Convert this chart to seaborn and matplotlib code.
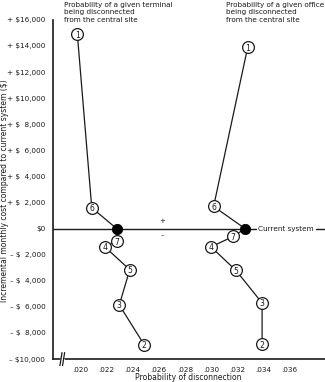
import pandas as pd
import matplotlib
matplotlib.use("Agg")
import matplotlib.pyplot as plt
import seaborn as sns

# points in drawing order; "C" is the current system
point_ids = ["1", "6", "C", "7", "4", "5", "3", "2"]
terminal_prob = [0.0198, 0.0209, 0.0228, 0.0228, 0.0219, 0.0238, 0.0230, 0.0249]
terminal_cost = [14900, 1600, 0, -950, -1400, -3150, -5850, -8900]
office_prob = [0.0328, 0.0302, 0.0326, 0.0317, 0.0300, 0.0319, 0.0339, 0.0339]
office_cost = [13900, 1700, 0, -600, -1400, -3200, -5700, -8850]

y_ticks = [16000, 14000, 12000, 10000, 8000, 6000, 4000, 2000, 0,
           -2000, -4000, -6000, -8000, -10000]
y_labels = ["+ $16,000", "+ $14,000", "+ $12,000", "+ $10,000", "+ $  8,000",
            "+ $  6,000", "+ $  4,000", "+ $  2,000", "$0", "\u2013 $  2,000",
            "\u2013 $  4,000", "\u2013 $  6,000", "\u2013 $  8,000", "\u2013 $10,000"]
x_ticks = [0.020, 0.022, 0.024, 0.026, 0.028, 0.030, 0.032, 0.034, 0.036]
x_labels = [".020", ".022", ".024", ".026", ".028", ".030", ".032", ".034", ".036"]

df = pd.concat([
    pd.DataFrame({"prob": terminal_prob, "cost": terminal_cost, "id": point_ids, "series": "terminal"}),
    pd.DataFrame({"prob": office_prob, "cost": office_cost, "id": point_ids, "series": "office"}),
])
numbered = df[df["id"] != "C"]
current = df[df["id"] == "C"]

sns.set_style("white")
plt.rcParams["font.family"] = ["DejaVu Sans"]
ink = "#1a1a1a"

fig = plt.figure(figsize=(3.25, 3.82), dpi=100)
ax = fig.add_axes([0.163, 0.06, 0.837, 0.888])

xmin, xmax = 0.01794, 0.0387
ax.set_xlim(xmin, xmax)
ax.set_ylim(-10000, 16000)

# zero line with "Current system" label
ax.plot([xmin, 0.0334], [0, 0], color=ink, lw=1.0, zorder=1)
ax.plot([0.0380, xmax], [0, 0], color=ink, lw=1.0, zorder=1, clip_on=False)
ax.text(0.0336, 0, "Current system", fontsize=5.2, va="center", ha="left", color=ink)
ax.text(0.0263, 380, "+", fontsize=5, ha="center", va="bottom", color=ink)
ax.text(0.0263, -250, "\u2013", fontsize=5, ha="center", va="top", color=ink)

sns.lineplot(data=df, x="prob", y="cost", units="series", estimator=None,
             sort=False, color=ink, lw=0.9, ax=ax, zorder=2)
sns.scatterplot(data=numbered, x="prob", y="cost", s=72, color="white",
                edgecolor=ink, linewidth=0.9, ax=ax, zorder=3)
sns.scatterplot(data=current, x="prob", y="cost", s=55, color="black",
                edgecolor="black", ax=ax, zorder=4)
for _, r in numbered.iterrows():
    ax.text(r["prob"], r["cost"], r["id"], fontsize=5.6, ha="center",
            va="center_baseline", color=ink, zorder=5)

# series captions
cap = "Probability of a given terminal\nbeing disconnected\nfrom the central site"
fig.text(64 / 325, 1 - 2 / 382, cap, fontsize=5.2, va="top", ha="left",
         linespacing=1.25, color=ink)
cap2 = "Probability of a given office\nbeing disconnected\nfrom the central site"
fig.text(226 / 325, 1 - 2 / 382, cap2, fontsize=5.2, va="top", ha="left",
         linespacing=1.25, color=ink)

ax.set_yticks(y_ticks)
ax.set_yticklabels(y_labels)
ax.set_xticks(x_ticks)
ax.set_xticklabels(x_labels)
ax.tick_params(direction="inout", length=7, width=1.0, labelsize=5.2,
               colors=ink, pad=2)
ax.set_xlabel("")
ax.set_ylabel("")
for side in ["top", "right"]:
    ax.spines[side].set_visible(False)
for side in ["left", "bottom"]:
    ax.spines[side].set_color(ink)
    ax.spines[side].set_linewidth(1.2)

# axis break marks
for bx in (0.01855, 0.01875):
    ax.plot([bx - 0.00008, bx + 0.00008], [-10500, -9500], color=ink, lw=0.9,
            clip_on=False, zorder=6)
ax.plot([0.01858, 0.01872], [-10000, -10000], color="white", lw=2, clip_on=False, zorder=5)

fig.text(188 / 325, 1 - 377 / 382, "Probability of disconnection", fontsize=5.5,
         ha="center", va="center", color=ink)
fig.text(5 / 325, 0.50, "Incremental monthly cost compared to current system ($)",
         fontsize=5.5, rotation=90, ha="center", va="center", color=ink)

fig.savefig("out.png", dpi=100)
